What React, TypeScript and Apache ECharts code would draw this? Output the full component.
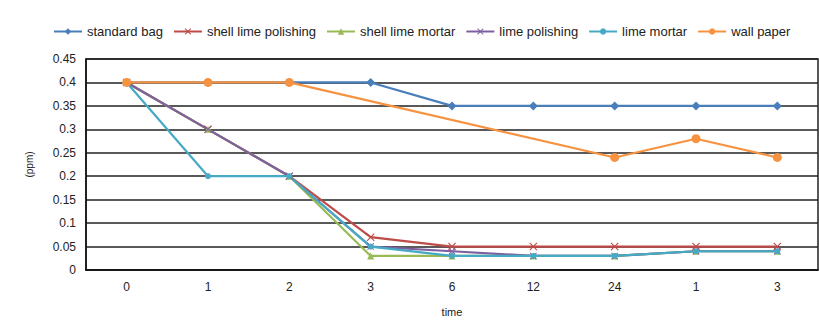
import React, { useEffect, useRef } from "react";
import * as echarts from "echarts";

const categories = ["0", "1", "2", "3", "6", "12", "24", "1", "3"];
const seriesNames = ["standard bag", "shell lime polishing", "shell lime mortar", "lime polishing", "lime mortar", "wall paper"];
const standardBag = [0.4, 0.4, 0.4, 0.4, 0.35, 0.35, 0.35, 0.35, 0.35];
const shellLimePolishing = [0.4, 0.3, 0.2, 0.07, 0.05, 0.05, 0.05, 0.05, 0.05];
const shellLimeMortar = [0.4, 0.3, 0.2, 0.03, 0.03, 0.03, 0.03, 0.04, 0.04];
const limePolishing = [0.4, 0.3, 0.2, 0.05, 0.04, 0.03, 0.03, 0.04, 0.04];
const limeMortar = [0.4, 0.2, 0.2, 0.05, 0.03, 0.03, 0.03, 0.04, 0.04];
const wallPaper = [0.4, 0.4, 0.4, null, null, null, 0.24, 0.28, 0.24];

const colors = ["#4A7EBB", "#BE4B48", "#98B954", "#7D60A0", "#46AAC5", "#F69240"];
const xPath = "path://M0,1 L1,0 L5,4 L9,0 L10,1 L6,5 L10,9 L9,10 L5,6 L1,10 L0,9 L4,5 Z";
const symbols = ["diamond", xPath, "triangle", xPath, "circle", "circle"];
const sizes = [9, 8, 7, 7, 6, 9];

export default function App() {
  const ref = useRef<HTMLDivElement>(null);
  useEffect(() => {
    const chart = echarts.init(ref.current!, null, { renderer: "svg" });
    const data = [standardBag, shellLimePolishing, shellLimeMortar, limePolishing, limeMortar, wallPaper];
    chart.setOption({
      animation: false,
      textStyle: { fontFamily: "Liberation Sans, Arial, sans-serif" },
      color: colors,
      legend: {
        top: 20,
        left: 48,
        itemWidth: 28,
        itemHeight: 8,
        itemGap: 10,
        textStyle: { fontSize: 13, color: "#222" },
        data: seriesNames,
      },
      grid: { left: 86, right: 1, top: 59, bottom: 59, show: true, borderColor: "#222", borderWidth: 1.5 },
      xAxis: {
        type: "category",
        data: categories,
        boundaryGap: true,
        name: "time",
        nameLocation: "middle",
        nameGap: 36,
        nameTextStyle: { fontSize: 11, color: "#222" },
        axisLine: { lineStyle: { color: "#111", width: 1.5 } },
        axisTick: { show: false },
        axisLabel: { fontSize: 12, color: "#222", margin: 11 },
      },
      yAxis: {
        type: "value",
        min: 0,
        max: 0.45,
        interval: 0.05,
        name: "(ppm)",
        nameLocation: "middle",
        nameGap: 52,
        nameRotate: 90,
        nameTextStyle: { fontSize: 10, color: "#222" },
        axisLine: { show: true, lineStyle: { color: "#111", width: 1.5 } },
        axisTick: { show: false },
        axisLabel: { fontSize: 12, color: "#222", margin: 10, formatter: (v: number) => String(+v.toFixed(2)) },
        splitLine: { lineStyle: { color: "#222", width: 1.6 } },
      },
      series: seriesNames.map((name, i) => ({
        name,
        type: "line",
        data: data[i],
        connectNulls: true,
        symbol: symbols[i],
        symbolSize: sizes[i],
        lineStyle: { width: 2.2, color: colors[i] },
        itemStyle: { color: colors[i] },
      })),
    });
    return () => chart.dispose();
  }, []);
  return <div ref={ref} style={{ width: 819, height: 329, position: "absolute", left: 0, top: 0 }} />;
}
